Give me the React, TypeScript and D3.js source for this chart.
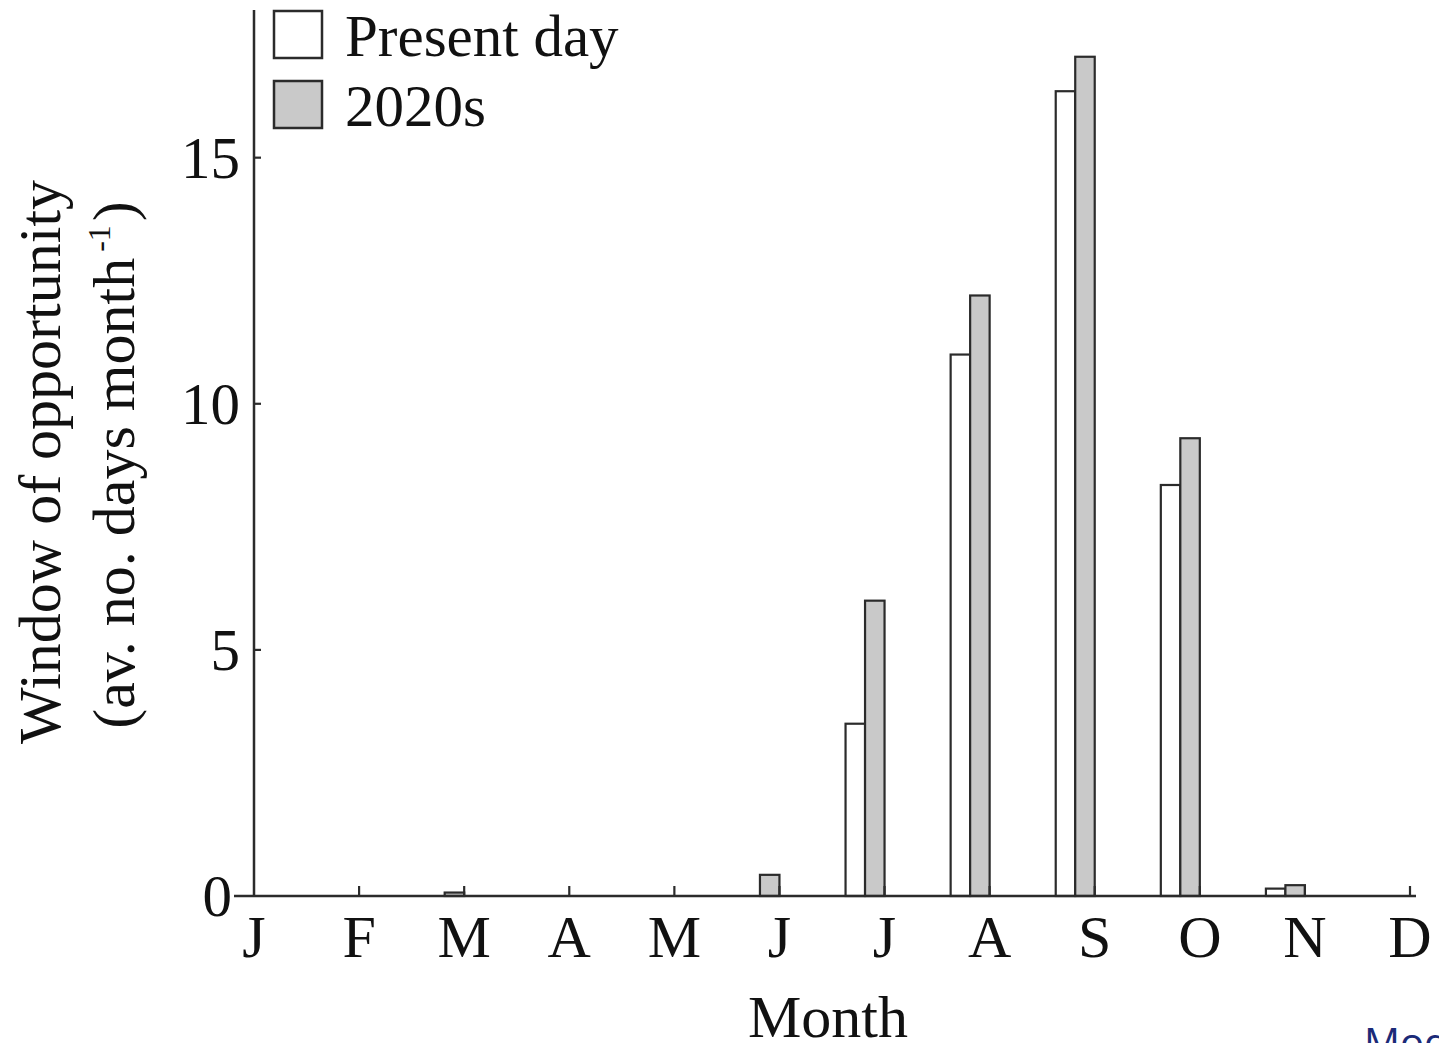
import React from "react";
import * as d3 from "d3";

const months = ["J", "F", "M", "A", "M", "J", "J", "A", "S", "O", "N", "D"];
const presentDay = [0, 0, 0, 0, 0, 0, 3.5, 11.0, 16.35, 8.35, 0.15, 0];
const future2020s = [0, 0, 0.07, 0, 0, 0.43, 6.0, 12.2, 17.05, 9.3, 0.22, 0];
const yTicks = [0, 5, 10, 15];
const seriesNames = ["Present day", "2020s"];

const W = 1439;
const H = 1043;
const x0 = 254;
const x1 = 1410;
const yBase = 896;
const yTopPx = 10;
const serif = "'Liberation Serif', 'Times New Roman', serif";
const stroke = "#2b2b2b";
const grayFill = "#c9c9c9";

export default function App() {
  const idx = months.map((_, i) => i);
  const x = d3.scalePoint<number>().domain(idx).range([x0, x1]);
  const y = d3.scaleLinear().domain([0, 18]).range([yBase, yTopPx]);
  const barW = 19.5;

  return (
    <svg
      width={W}
      height={H}
      style={{ position: "absolute", left: 0, top: 0, background: "#fff" }}
    >
      <rect x={0} y={0} width={W} height={H} fill="#fff" />
      {/* bars */}
      {idx.map((i) => {
        const xc = x(i) as number;
        const v1 = presentDay[i];
        const v2 = future2020s[i];
        return (
          <g key={i}>
            {v1 > 0 && (
              <rect
                x={xc - 2 * barW}
                y={y(v1)}
                width={barW}
                height={yBase - y(v1)}
                fill="#fff"
                stroke={stroke}
                strokeWidth={2.2}
              />
            )}
            {v2 > 0 && (
              <rect
                x={xc - barW}
                y={y(v2)}
                width={barW}
                height={yBase - y(v2)}
                fill={grayFill}
                stroke={stroke}
                strokeWidth={2.2}
              />
            )}
          </g>
        );
      })}
      {/* y axis */}
      <line x1={x0} x2={x0} y1={yTopPx} y2={yBase} stroke={stroke} strokeWidth={2.5} />
      {yTicks.map((t) => (
        <g key={t}>
          {t > 0 && (
            <line x1={x0} x2={x0 + 7} y1={y(t)} y2={y(t)} stroke={stroke} strokeWidth={2.2} />
          )}
          <text
            x={t === 0 ? 232 : 240}
            y={y(t) + 20}
            textAnchor="end"
            fontFamily={serif}
            fontSize={59}
            fill="#111"
          >
            {t}
          </text>
        </g>
      ))}
      {/* x axis */}
      <line x1={234} x2={1416} y1={yBase} y2={yBase} stroke={stroke} strokeWidth={2.5} />
      {idx.map((i) => (
        <g key={"xt" + i}>
          {i > 0 && (
            <line
              x1={x(i) as number}
              x2={x(i) as number}
              y1={yBase}
              y2={yBase - 10}
              stroke={stroke}
              strokeWidth={2.2}
            />
          )}
          <text
            x={x(i) as number}
            y={957}
            textAnchor="middle"
            fontFamily={serif}
            fontSize={60}
            fill="#111"
          >
            {months[i]}
          </text>
        </g>
      ))}
      {/* axis titles */}
      <text
        x={828}
        y={1037}
        textAnchor="middle"
        fontFamily={serif}
        fontSize={60}
        fill="#111"
      >
        Month
      </text>
      <text
        transform="translate(60,462) rotate(-90)"
        textAnchor="middle"
        fontFamily={serif}
        fontSize={60}
        fill="#111"
      >
        Window of opportunity
      </text>
      <text
        transform="translate(134,465) rotate(-90)"
        textAnchor="middle"
        fontFamily={serif}
        fontSize={60}
        fill="#111"
      >
        (av. no. days month
        <tspan fontSize={32} dx={6} dy={-24}>
          -1
        </tspan>
        <tspan dx={4} dy={24}>)</tspan>
      </text>
      {/* legend */}
      {seriesNames.map((s, k) => (
        <g key={s}>
          <rect
            x={274}
            y={11 + k * 70}
            width={48}
            height={47}
            fill={k === 0 ? "#fff" : grayFill}
            stroke={stroke}
            strokeWidth={2.5}
          />
          <text x={345} y={56 + k * 70} fontFamily={serif} fontSize={59} fill="#111">
            {s}
          </text>
        </g>
      ))}
      {/* watermark fragment */}
      <text x={1364} y={1057} fontFamily="'Open Sans', sans-serif" fontSize={40} fill="#1b2a78">
        Mod
      </text>
    </svg>
  );
}
